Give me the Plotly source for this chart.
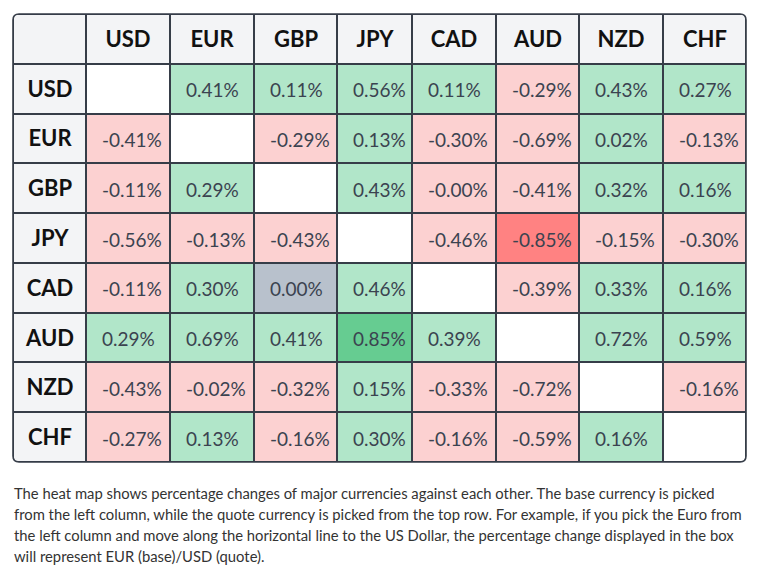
import math
import plotly.graph_objects as go

currencies = ["USD", "EUR", "GBP", "JPY", "CAD", "AUD", "NZD", "CHF"]

usd = [None, 0.41, 0.11, 0.56, 0.11, -0.29, 0.43, 0.27]
eur = [-0.41, None, -0.29, 0.13, -0.30, -0.69, 0.02, -0.13]
gbp = [-0.11, 0.29, None, 0.43, -0.00, -0.41, 0.32, 0.16]
jpy = [-0.56, -0.13, -0.43, None, -0.46, -0.85, -0.15, -0.30]
cad = [-0.11, 0.30, 0.00, 0.46, None, -0.39, 0.33, 0.16]
aud = [0.29, 0.69, 0.41, 0.85, 0.39, None, 0.72, 0.59]
nzd = [-0.43, -0.02, -0.32, 0.15, -0.33, -0.72, None, -0.16]
chf = [-0.27, 0.13, -0.16, 0.30, -0.16, -0.59, 0.16, None]
rows = [usd, eur, gbp, jpy, cad, aud, nzd, chf]

caption_lines = [
    "The heat map shows percentage changes of major currencies against each other. The base currency is picked",
    "from the left column, while the quote currency is picked from the top row. For example, if you pick the Euro from",
    "the left column and move along the horizontal line to the US Dollar, the percentage change displayed in the box",
    "will represent EUR (base)/USD (quote).",
]

# ---- styling / layout constants ----
FONT = "Lato"
col_widths = [73, 84, 84, 83, 75, 84, 83, 84, 83]
colors = ["#f3f4f6", "#ffffff", "#b1e6c9", "#fcd1d1", "#b8c1cc", "#66cc91", "#ff8282"]
GRID = "#363d48"

x_edges = [0]
for w in col_widths:
    x_edges.append(x_edges[-1] + w)
n = len(currencies) + 1
y_edges = list(range(n + 1))

max_abs = max(abs(v) for r in rows for v in r if v is not None)


def code_of(v):
    if v is None:
        return 1
    neg = math.copysign(1.0, v) < 0
    if v == 0 and not neg:
        return 4
    if abs(v) >= max_abs:
        return 6 if neg else 5
    return 3 if neg else 2


hz, ht, dz = [], [], []
annotations = []
for i in range(n):
    hrow, htrow, drow = [], [], []
    for j in range(n):
        if i == 0 or j == 0:
            hrow.append(0)
            if i == 0 and j == 0:
                htrow.append("")
            elif i == 0:
                htrow.append(currencies[j - 1])
            else:
                htrow.append(currencies[i - 1])
            drow.append(None)
        else:
            v = rows[i - 1][j - 1]
            hrow.append(None)
            htrow.append("")
            drow.append(code_of(v))
            if v is not None:
                annotations.append(dict(
                    text=f"{v:.2f}%", x=x_edges[j], y=i + 0.5, xref="x", yref="y",
                    xanchor="left", yanchor="middle", xshift=14, yshift=-1, showarrow=False,
                    font=dict(family=FONT, size=19, color="#3b4350")))
    hz.append(hrow); ht.append(htrow); dz.append(drow)

cscale = []
k = len(colors)
for idx, c in enumerate(colors):
    cscale.append([idx / k, c])
    cscale.append([(idx + 1) / k, c])

common = dict(x=x_edges, y=y_edges, colorscale=cscale, zmin=-0.5, zmax=k - 0.5,
              showscale=False, xgap=2, ygap=2, hoverinfo="skip")

fig = go.Figure()
fig.add_trace(go.Heatmap(z=hz, text=ht, texttemplate="%{text}",
                         textfont=dict(family=FONT, size=22, color="#111111", weight=700), **common))
fig.add_trace(go.Heatmap(z=dz, **common))

W, H = 757, 571
ml, mr, mt, mb = 13, 11, 14, 109
pw, ph = W - ml - mr, H - mt - mb
r = 6
rx, ry = r / pw, r / ph

shapes = []
for (cx, cy, sx, sy) in [(0, 1, 1, -1), (1, 1, -1, -1), (1, 0, -1, 1), (0, 0, 1, 1)]:
    shapes.append(dict(type="path", xref="paper", yref="paper",
                       path=f"M {cx},{cy} L {cx + sx * rx},{cy} Q {cx},{cy} {cx},{cy + sy * ry} Z",
                       fillcolor="white", line=dict(width=0), layer="above"))
border = (f"M {rx},1 L {1 - rx},1 Q 1,1 1,{1 - ry} L 1,{ry} Q 1,0 {1 - rx},0 "
          f"L {rx},0 Q 0,0 0,{ry} L 0,{1 - ry} Q 0,1 {rx},1 Z")
shapes.append(dict(type="path", xref="paper", yref="paper", path=border,
                   line=dict(color=GRID, width=1.6), layer="above"))

for li, line in enumerate(caption_lines):
    annotations.append(dict(text=line, xref="paper", yref="paper", x=0, y=0,
                            xanchor="left", yanchor="middle", showarrow=False,
                            yshift=-(31 + li * 21), xshift=-1,
                            font=dict(family=FONT, size=14.8, color="#333333")))

fig.update_layout(
    width=W, height=H, margin=dict(l=ml, r=mr, t=mt, b=mb),
    paper_bgcolor="white", plot_bgcolor=GRID,
    xaxis=dict(range=[x_edges[0], x_edges[-1]], visible=False, fixedrange=True),
    yaxis=dict(range=[y_edges[-1], y_edges[0]], visible=False, fixedrange=True),
    shapes=shapes, annotations=annotations, showlegend=False,
)

fig.write_html("out.html")
